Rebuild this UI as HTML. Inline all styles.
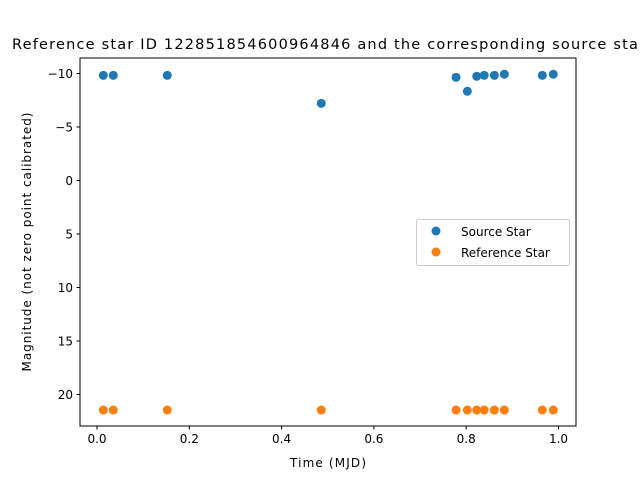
<!DOCTYPE html>
<html><head><meta charset="utf-8"><style>
body{margin:0;background:#fff;font-family:"Liberation Sans","DejaVu Sans",sans-serif;}
svg text{font-family:"DejaVu Sans","Liberation Sans",sans-serif;}
</style></head><body>
<svg id="chart" width="640" height="480" xmlns="http://www.w3.org/2000/svg">
<rect width="640" height="480" fill="#fff"/>
<text x="12" y="49" font-size="14.5" fill="#000" textLength="633">Reference star ID 122851854600964846 and the corresponding source star</text>
<g id="ticks"></g>
<g id="marks"></g>
<rect x="80" y="58" width="496" height="368" fill="none" stroke="#000" stroke-width="1"/>
<text x="328" y="467" font-size="12" text-anchor="middle" textLength="76">Time (MJD)</text>
<text x="0" y="0" font-size="12" text-anchor="middle" textLength="259" transform="translate(31,242) rotate(-90)">Magnitude (not zero point calibrated)</text>
<g>
<rect x="416.5" y="219.5" width="153" height="46" rx="2" fill="#fff" stroke="#ccc"/>
<circle cx="436" cy="231" r="4.5" fill="#1f77b4"/>
<text x="461" y="236" font-size="12">Source Star</text>
<circle cx="436" cy="252" r="4.5" fill="#ff7f0e"/>
<text x="461" y="257" font-size="12">Reference Star</text>
</g>
</svg>
<script>
const times = [0.0137,0.0353,0.1523,0.486,0.778,0.8025,0.8228,0.839,0.861,0.8826,0.965,0.9887];
const sourceMag = [-9.83,-9.83,-9.83,-7.21,-9.64,-8.34,-9.74,-9.83,-9.83,-9.93,-9.83,-9.93];
const referenceMag = [21.45,21.45,21.45,21.45,21.45,21.45,21.45,21.45,21.45,21.45,21.45,21.45];
const xTicks = [0.0,0.2,0.4,0.6,0.8,1.0];
const xTickLabels = ["0.0","0.2","0.4","0.6","0.8","1.0"];
const yTicks = [-10,-5,0,5,10,15,20];
const yTickLabels = ["\u221210","\u22125","0","5","10","15","20"];
const NS="http://www.w3.org/2000/svg";
const xs = v => 97 + v*461.5;
const ys = v => 180.5 + v*10.7;
const tg=document.getElementById('ticks'), mg=document.getElementById('marks');
function mk(tag,attrs,parent){const e=document.createElementNS(NS,tag);for(const k in attrs)e.setAttribute(k,attrs[k]);parent.appendChild(e);return e;}
xTicks.forEach((t,i)=>{
  const x=xs(t);
  const l=mk('line',{x1:x,x2:x,y1:426,y2:429.5,stroke:'#000'},tg);
  
  
  const tx=mk('text',{x:x,y:443,'font-size':12,'text-anchor':'middle'},tg);
  tx.textContent=xTickLabels[i];
  
  
});
yTicks.forEach((t,i)=>{
  const y=ys(t);
  const l=mk('line',{x1:76.5,x2:80,y1:y,y2:y,stroke:'#000'},tg);
  
  
  const tx=mk('text',{x:73,y:y+4.5,'font-size':12,'text-anchor':'end'},tg);
  tx.textContent=yTickLabels[i];
  
  
});
times.forEach((t,i)=>{
  const c=mk('circle',{cx:xs(t),cy:ys(sourceMag[i]),r:4.5,fill:'#1f77b4'},mg);
  
  
});
times.forEach((t,i)=>{
  const c=mk('circle',{cx:xs(t),cy:ys(referenceMag[i]),r:4.5,fill:'#ff7f0e'},mg);
  
  
});
</script>
</body></html>
